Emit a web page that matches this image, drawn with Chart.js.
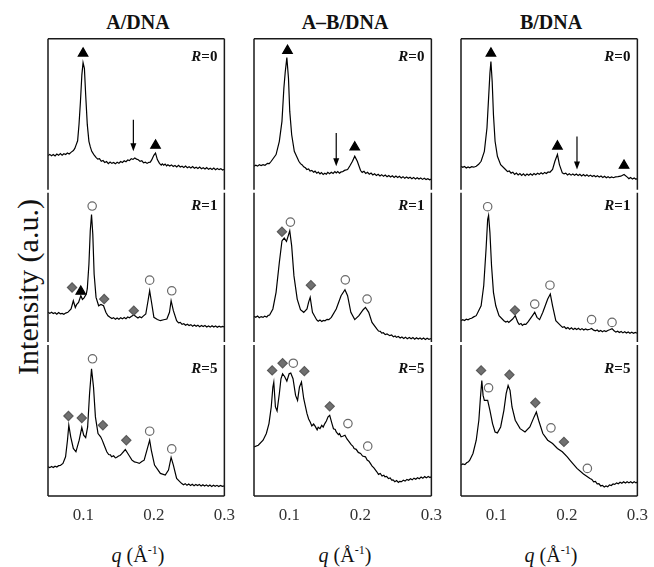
<!DOCTYPE html>
<html>
<head>
<meta charset="utf-8">
<script src="https://cdn.jsdelivr.net/npm/chart.js@4.4.1/dist/chart.umd.min.js"></script>
<style>
  body { margin: 0; width: 654px; height: 567px; background: #fff; position: relative; overflow: hidden; font-family: "Liberation Serif", "DejaVu Serif", serif; color: #111; }
  canvas { position: absolute; top: 32px; }
  .title { position: absolute; top: 11px; width: 120px; text-align: center; font-weight: bold; font-size: 20px; line-height: 22px; }
  .xlab { position: absolute; top: 555px; font-size: 20px; white-space: nowrap; transform: translate(-50%, -50%); }
  .xlab sup { font-size: 12px; }
  #ylab { position: absolute; left: 28px; top: 287px; font-size: 30px; white-space: nowrap; transform: translate(-50%, -50%) rotate(-90deg); }
</style>
</head>
<body>
<div class="title" style="left:78px">A/DNA</div>
<div class="title" style="left:285px">A&ndash;B/DNA</div>
<div class="title" style="left:491px">B/DNA</div>
<div id="ylab">Intensity (a.u.)</div>
<div class="xlab" style="left:138px"><i>q</i> (Å<sup>-1</sup>)</div>
<div class="xlab" style="left:345px"><i>q</i> (Å<sup>-1</sup>)</div>
<div class="xlab" style="left:551px"><i>q</i> (Å<sup>-1</sup>)</div>
<canvas id="cA" width="211" height="498" style="left:33px"></canvas>
<canvas id="cB" width="212" height="498" style="left:239px"></canvas>
<canvas id="cC" width="211" height="498" style="left:446px"></canvas>
<script>
// charge ratios, top to bottom
const ratios = [0, 1, 5];
const xTicks = [0.1, 0.2, 0.3];

// A/DNA  [q, I]
const traceA0 = [[0.050,23.3],[0.0525,24.1],[0.055,23.2],[0.0575,24.0],[0.060,23.1],[0.0625,24.3],[0.065,23.5],[0.0675,24.6],[0.070,23.6],[0.0725,24.5],[0.075,24.0],[0.0775,25.0],[0.080,24.4],[0.083,25.6],[0.086,26.6],[0.088,28],[0.090,30.5],[0.092,33],[0.094,44],[0.096,58.8],[0.098,76.3],[0.0997,84.3],[0.1016,80.6],[0.1034,63.2],[0.1057,43.6],[0.108,32.7],[0.110,29],[0.112,26.1],[0.115,24],[0.118,22.2],[0.1205,21.0],[0.123,21.3],[0.1255,19.6],[0.128,20.1],[0.1305,18.8],[0.133,19.4],[0.1355,18.0],[0.138,19.1],[0.1405,18.2],[0.143,18.8],[0.1455,17.9],[0.148,18.9],[0.1505,18.3],[0.153,19.4],[0.1555,18.8],[0.158,19.9],[0.1605,19.3],[0.163,20.4],[0.1655,20.0],[0.168,21.3],[0.1705,20.8],[0.173,21.7],[0.1755,21.0],[0.178,20.6],[0.1805,19.5],[0.183,19.9],[0.1855,18.6],[0.188,19.0],[0.1905,18.2],[0.193,18.9],[0.195,19.0],[0.197,20.5],[0.200,23.5],[0.2024,25],[0.205,20.7],[0.208,18.2],[0.2105,17.1],[0.212,17.9],[0.214,17.0],[0.216,17.8],[0.218,16.6],[0.220,17.3],[0.2225,16.5],[0.225,17.2],[0.2275,16.2],[0.230,16.8],[0.2325,15.9],[0.235,16.9],[0.2375,15.8],[0.240,16.3],[0.2425,15.5],[0.245,16.4],[0.2475,15.4],[0.250,16.0],[0.2525,15.2],[0.255,16.1],[0.2575,15.0],[0.260,15.7],[0.2625,14.8],[0.265,15.8],[0.2675,14.7],[0.270,15.3],[0.2725,14.5],[0.275,15.4],[0.2775,14.3],[0.280,15.0],[0.2825,14.2],[0.285,15.1],[0.2875,14.0],[0.290,14.8],[0.2925,14.1],[0.295,14.7],[0.2975,13.9],[0.300,14.4]];
const traceA1 = [[0.050,20.5],[0.0525,19.8],[0.055,20.6],[0.0575,19.7],[0.060,20.2],[0.0625,19.3],[0.065,20.3],[0.0675,19.5],[0.070,19.8],[0.0725,19.2],[0.075,20.0],[0.0781,20.5],[0.0827,22.7],[0.0859,28.1],[0.0887,23.7],[0.0905,25.5],[0.0933,27],[0.0965,31.4],[0.0988,29],[0.1011,30],[0.1043,32.5],[0.1057,36],[0.108,52],[0.1099,73.9],[0.1117,84.7],[0.1135,71.7],[0.1154,45.5],[0.1181,30.3],[0.1218,24.8],[0.125,25.6],[0.1287,24.8],[0.132,20.5],[0.135,18.2],[0.1379,17.2],[0.1405,16.4],[0.143,17.0],[0.1455,15.9],[0.148,16.8],[0.1505,16.0],[0.153,16.9],[0.1555,16.2],[0.158,17.1],[0.1605,16.3],[0.163,17.4],[0.1655,16.9],[0.1679,17.8],[0.1716,18.8],[0.175,17.6],[0.1775,16.8],[0.180,17.6],[0.1825,16.9],[0.185,18.0],[0.1886,19.4],[0.1918,28.1],[0.1941,34.6],[0.1964,28.1],[0.2001,17.2],[0.205,15.8],[0.2093,15],[0.214,15.6],[0.2185,16.1],[0.2222,20.5],[0.2245,28.1],[0.2277,21.6],[0.2323,15],[0.235,13.6],[0.2375,13.9],[0.240,12.6],[0.2425,13.0],[0.245,12.0],[0.2475,12.7],[0.250,11.8],[0.2525,12.4],[0.255,11.4],[0.2575,12.2],[0.260,11.3],[0.2625,12.0],[0.265,11.1],[0.2675,11.9],[0.270,11.2],[0.2725,11.8],[0.275,10.9],[0.2775,11.6],[0.280,10.8],[0.2825,11.7],[0.285,10.9],[0.2875,11.5],[0.290,10.7],[0.2925,11.4],[0.295,10.8],[0.2975,11.3],[0.300,10.9]];
const traceA5 = [[0.050,19.2],[0.0525,18.6],[0.055,19.4],[0.0575,18.7],[0.060,19.5],[0.0625,19.0],[0.065,19.9],[0.0675,20.0],[0.0712,21.4],[0.0749,25.7],[0.0776,36.6],[0.0795,46.4],[0.0822,38.8],[0.0859,31.2],[0.0896,29],[0.0942,36.6],[0.0979,44.9],[0.1006,39.9],[0.1034,38.3],[0.1062,45.3],[0.1089,67.1],[0.1117,83.4],[0.1145,71.5],[0.1172,51.9],[0.1209,41],[0.1246,38.8],[0.127,36.5],[0.1287,34.4],[0.1333,29],[0.136,27.2],[0.1385,27.0],[0.1402,25.7],[0.143,26.4],[0.1455,25.0],[0.1471,25.3],[0.150,26.2],[0.152,26.6],[0.154,27.5],[0.1596,30.5],[0.1656,26.1],[0.169,23.5],[0.1725,22.4],[0.176,22.0],[0.1794,21.4],[0.183,22.6],[0.1863,23.5],[0.1909,31.2],[0.1941,36.6],[0.1964,30.1],[0.201,20.3],[0.2093,14.8],[0.2162,13.7],[0.2208,17],[0.2245,25.3],[0.2277,20.3],[0.2323,11.5],[0.2392,8.3],[0.242,7.4],[0.2445,8.1],[0.247,7.0],[0.2495,7.8],[0.252,6.9],[0.2545,7.7],[0.257,6.8],[0.2595,7.6],[0.262,6.9],[0.2645,7.5],[0.267,6.6],[0.2695,7.4],[0.272,6.5],[0.2745,7.3],[0.277,6.4],[0.2795,7.2],[0.282,6.3],[0.2845,7.1],[0.287,6.4],[0.2895,7.0],[0.292,6.2],[0.2945,6.9],[0.297,6.3],[0.300,6.6]];
// markers  [R, q, I]
const triA = [[0,0.0997,90.4],[0,0.2024,30],[1,0.0965,34.2]];
const circA = [[1,0.1126,90.2],[1,0.1941,41.6],[1,0.2254,34.6],[5,0.1131,90],[5,0.1941,42.5],[5,0.2254,30.9]];
const diaA = [[1,0.0841,36.8],[1,0.1296,29.2],[1,0.1716,21.6],[5,0.079,52.5],[5,0.0979,51.2],[5,0.1278,46.4],[5,0.161,36.6]];
const arrowA = [[0,0.171,46.8,26.1]];

// A-B/DNA
const traceB0 = [[0.050,16.3],[0.0525,17.0],[0.055,16.4],[0.0575,17.3],[0.060,16.8],[0.0628,17.4],[0.0655,17.0],[0.069,18.2],[0.0715,18.0],[0.0743,19.6],[0.0811,24],[0.0857,32.7],[0.0894,45.8],[0.0921,67.5],[0.094,78],[0.0963,87.6],[0.0986,74.1],[0.1004,52.3],[0.1031,37],[0.1068,26.1],[0.1132,19.6],[0.1155,18.0],[0.118,17.2],[0.120,16.0],[0.1224,15.3],[0.1245,14.2],[0.127,14.6],[0.129,13.2],[0.1315,13.6],[0.134,12.4],[0.136,13.1],[0.1385,11.8],[0.1407,12.5],[0.143,11.3],[0.145,12.2],[0.1475,11.0],[0.1498,11.8],[0.152,11.1],[0.154,12.3],[0.1565,11.4],[0.159,12.4],[0.1615,11.6],[0.164,12.8],[0.1659,12.0],[0.168,12.9],[0.1705,11.8],[0.1727,12.6],[0.175,12.7],[0.1775,13.6],[0.1819,14.2],[0.185,16.5],[0.1888,19.6],[0.192,22.9],[0.1956,19.6],[0.2002,13.5],[0.2025,12.3],[0.205,13.0],[0.2075,11.6],[0.210,12.4],[0.2125,11.1],[0.215,11.9],[0.2175,10.6],[0.220,11.4],[0.2225,10.2],[0.225,11.0],[0.2275,9.9],[0.230,10.8],[0.2325,9.7],[0.235,10.5],[0.2375,9.4],[0.240,10.3],[0.2425,9.3],[0.245,10.1],[0.2475,9.0],[0.250,9.9],[0.2525,8.9],[0.255,9.7],[0.2575,8.7],[0.260,9.5],[0.2625,8.5],[0.265,9.3],[0.2675,8.4],[0.270,9.1],[0.2725,8.2],[0.275,9.0],[0.2775,8.0],[0.280,8.8],[0.2825,7.9],[0.285,8.6],[0.2875,7.7],[0.290,8.4],[0.2925,7.6],[0.295,8.2],[0.2975,7.4],[0.300,7.9]];
const traceB1 = [[0.050,17.9],[0.0525,17.2],[0.055,18.1],[0.0575,17.0],[0.060,17.7],[0.0628,17.2],[0.065,18.0],[0.068,17.4],[0.070,18.5],[0.072,18.7],[0.0766,22.7],[0.0811,33.6],[0.0857,53.2],[0.0894,67.3],[0.0926,69.2],[0.0958,67],[0.1004,73.9],[0.1031,64.1],[0.1063,44.4],[0.1109,29.2],[0.1155,22.2],[0.1201,20.5],[0.1247,22.7],[0.1269,27],[0.1292,30.3],[0.1324,20.5],[0.1384,15.5],[0.1405,14.6],[0.143,15.4],[0.1455,14.5],[0.1476,15.2],[0.150,14.9],[0.153,15.9],[0.1555,15.7],[0.159,17.2],[0.1659,22.7],[0.1727,31.4],[0.1782,35.3],[0.1819,31.4],[0.1865,20.5],[0.192,15.7],[0.1979,18.3],[0.2039,22.2],[0.2071,23.7],[0.2117,20.5],[0.2163,13.9],[0.2231,9.6],[0.2255,8.2],[0.228,8.0],[0.230,6.9],[0.2323,7.1],[0.235,5.9],[0.2375,6.3],[0.2414,5.2],[0.244,5.6],[0.2465,4.4],[0.249,5.0],[0.2506,4.1],[0.2535,4.6],[0.256,3.6],[0.2585,4.3],[0.261,3.4],[0.2635,4.2],[0.266,3.2],[0.2689,4.0],[0.2715,3.1],[0.274,3.9],[0.2765,2.9],[0.279,3.8],[0.2815,3.0],[0.284,3.7],[0.2865,2.8],[0.289,3.6],[0.2915,2.7],[0.294,3.5],[0.2965,2.8],[0.300,3.3]];
const traceB5 = [[0.050,32.2],[0.056,33.3],[0.0628,36.6],[0.0674,41],[0.0711,47.5],[0.0743,58.4],[0.0766,71.5],[0.0779,74.7],[0.0802,58.4],[0.0825,55.8],[0.0857,67.1],[0.088,76.9],[0.0903,80.2],[0.0931,78.4],[0.0963,75.4],[0.0995,80.2],[0.1018,80.6],[0.105,76.9],[0.1086,66],[0.1114,62.7],[0.1141,71.5],[0.1169,74.7],[0.1201,63.8],[0.1247,54],[0.127,50.5],[0.1292,48.6],[0.1315,46.0],[0.134,47.2],[0.1361,45.8],[0.139,43.4],[0.1405,45.1],[0.143,44.2],[0.1455,46.3],[0.1475,45.2],[0.1498,47.5],[0.152,49.2],[0.1544,51.9],[0.1567,52.9],[0.1599,47.5],[0.162,44.1],[0.1645,43.6],[0.1659,42],[0.169,40.3],[0.1705,41.0],[0.1727,38.8],[0.175,39.2],[0.1782,39.9],[0.181,37.4],[0.1842,35.5],[0.187,33.7],[0.1895,32.6],[0.1911,31.2],[0.194,30.6],[0.197,28.6],[0.2002,27.9],[0.203,26.2],[0.2071,25.7],[0.2095,23.6],[0.212,22.8],[0.214,21.4],[0.2165,19.6],[0.219,18.4],[0.2231,15.9],[0.2255,14.2],[0.228,14.8],[0.2305,13.1],[0.233,13.6],[0.2346,12.6],[0.237,12.9],[0.2395,11.4],[0.242,11.8],[0.244,10.4],[0.246,10.6],[0.2485,9.4],[0.251,10.1],[0.2535,8.9],[0.2552,9.6],[0.258,9.4],[0.2605,10.4],[0.263,9.8],[0.2655,10.9],[0.268,10.3],[0.2705,11.3],[0.273,10.6],[0.2755,11.7],[0.278,11.0],[0.2805,12.0],[0.283,11.3],[0.2855,12.4],[0.288,11.6],[0.2905,12.7],[0.293,11.9],[0.2955,12.8],[0.298,12.1],[0.300,12.7]];
const triB = [[0,0.0972,92.2],[0,0.192,28.8]];
const circB = [[1,0.1013,79.7],[1,0.1787,41.8],[1,0.2094,29.2],[5,0.1054,87.1],[5,0.1824,47.5],[5,0.2103,32.7]];
const diaB = [[1,0.0894,73.4],[1,0.1302,38.3],[5,0.0756,82.4],[5,0.0903,87.1],[5,0.121,81.9],[5,0.1567,58.8]];
const arrowB = [[0,0.1659,38.1,16.3]];

// B/DNA
const traceC0 = [[0.050,16.3],[0.0525,15.6],[0.055,16.2],[0.0575,15.2],[0.060,15.9],[0.0624,15.3],[0.065,16.0],[0.068,15.7],[0.0716,16.3],[0.075,17.6],[0.0785,19.6],[0.0831,26.1],[0.0868,41.4],[0.0891,61],[0.091,77.3],[0.0924,85],[0.0942,71.9],[0.096,50.1],[0.0983,32.7],[0.1016,22.9],[0.1062,17.4],[0.1131,14.2],[0.116,12.8],[0.1185,13.2],[0.121,11.8],[0.1235,12.4],[0.126,11.0],[0.1285,11.9],[0.131,10.6],[0.1335,11.5],[0.136,10.3],[0.1385,11.3],[0.141,10.2],[0.1435,11.2],[0.146,10.4],[0.1485,11.4],[0.151,10.5],[0.1535,11.6],[0.156,10.8],[0.1585,11.7],[0.161,11.0],[0.1635,12.0],[0.166,11.2],[0.1685,12.3],[0.171,11.6],[0.1735,12.6],[0.176,12.4],[0.1798,14.2],[0.1831,19.6],[0.1867,24],[0.1895,17.4],[0.1936,12],[0.196,11.3],[0.1985,11.8],[0.201,10.6],[0.2035,11.4],[0.206,10.5],[0.2085,11.3],[0.211,10.4],[0.2135,11.2],[0.216,10.3],[0.2185,11.1],[0.221,10.0],[0.2235,10.9],[0.226,9.9],[0.2285,10.7],[0.231,9.7],[0.2335,10.5],[0.236,9.6],[0.2385,10.3],[0.241,9.4],[0.2435,10.1],[0.246,9.2],[0.2485,9.9],[0.251,9.0],[0.2535,9.7],[0.256,8.8],[0.2585,9.5],[0.261,8.7],[0.2635,9.3],[0.266,8.8],[0.269,9.3],[0.2725,9.5],[0.2765,9.8],[0.2811,10.9],[0.2857,9.2],[0.288,8.2],[0.2905,8.9],[0.293,7.9],[0.2955,8.6],[0.298,7.8],[0.300,8.3]];
const traceC1 = [[0.050,15],[0.0525,15.7],[0.055,15.1],[0.0575,16.0],[0.060,15.6],[0.0624,16.3],[0.065,16.6],[0.068,17.5],[0.0716,18.3],[0.0785,24.8],[0.0822,37.9],[0.0855,61.9],[0.0878,81.5],[0.0891,84.1],[0.091,72.8],[0.0933,51],[0.096,33.6],[0.0993,24.8],[0.1039,18.3],[0.1108,15],[0.1135,14.1],[0.116,14.6],[0.1177,13.9],[0.120,14.8],[0.1232,16.1],[0.1269,18.3],[0.1306,13.9],[0.1325,12.5],[0.135,13.2],[0.137,11.9],[0.1395,12.8],[0.142,12.6],[0.1453,14.4],[0.1513,18.3],[0.1545,20.5],[0.1577,17.2],[0.1614,15.7],[0.166,20.5],[0.1729,29.2],[0.1766,32.5],[0.1798,24.8],[0.1844,15],[0.1913,11.8],[0.194,10.6],[0.1965,11.0],[0.199,9.8],[0.2015,10.5],[0.204,9.4],[0.2065,10.3],[0.209,9.3],[0.2115,10.1],[0.214,9.2],[0.2165,10.0],[0.219,9.0],[0.2215,9.8],[0.224,8.9],[0.2265,9.6],[0.229,9.0],[0.2325,9.4],[0.2351,9.9],[0.238,8.8],[0.2405,8.4],[0.243,8.9],[0.2455,7.9],[0.248,8.6],[0.2505,7.8],[0.253,8.5],[0.2555,7.9],[0.258,8.6],[0.2615,9.2],[0.2641,9.8],[0.267,8.4],[0.2695,7.5],[0.272,8.1],[0.2745,7.2],[0.277,7.9],[0.2795,7.0],[0.282,7.7],[0.2845,6.9],[0.287,7.6],[0.2895,6.8],[0.292,7.4],[0.2945,6.7],[0.297,7.3],[0.300,6.8]];
const traceC5 = [[0.050,20.3],[0.0525,21.0],[0.0555,20.6],[0.058,21.8],[0.0605,22.4],[0.0624,23.5],[0.067,27.9],[0.0716,36.6],[0.0753,49.7],[0.0776,64.9],[0.0795,75.8],[0.0813,66],[0.0831,62.7],[0.0878,62.7],[0.091,56.2],[0.0947,47.5],[0.0983,42],[0.1016,41.4],[0.1062,45.3],[0.1108,56.2],[0.114,67.1],[0.1168,72.5],[0.1195,69.3],[0.1223,58.4],[0.1269,49.7],[0.1338,44.2],[0.1407,42],[0.1476,45.3],[0.1536,51.9],[0.1568,55.1],[0.160,49.7],[0.166,41],[0.1729,36.6],[0.1798,34.4],[0.1867,31.2],[0.1936,29],[0.2006,25.7],[0.2052,23.1],[0.2144,18.1],[0.2236,14.4],[0.2328,11.5],[0.2355,10.9],[0.238,9.3],[0.2405,9.6],[0.243,7.9],[0.2455,8.1],[0.248,6.6],[0.2505,7.0],[0.253,5.9],[0.2555,6.6],[0.258,6.1],[0.2605,7.3],[0.263,6.9],[0.2655,7.9],[0.268,7.6],[0.2705,8.6],[0.273,8.0],[0.2755,9.0],[0.278,8.4],[0.2805,9.3],[0.283,8.5],[0.2855,9.4],[0.288,8.6],[0.2905,9.4],[0.293,8.5],[0.2955,9.3],[0.298,8.6],[0.300,9.1]];
const triC = [[0,0.0924,90.4],[0,0.1867,29.4],[0,0.2811,16.8]];
const circC = [[1,0.0878,89.8],[1,0.1545,25.9],[1,0.1761,38.3],[1,0.2351,15.7],[1,0.2641,13.9],[5,0.0891,71],[5,0.1775,44.7],[5,0.2291,18.1]];
const diaC = [[1,0.1264,21.8],[5,0.0785,82.4],[5,0.1186,79.5],[5,0.1554,61.2],[5,0.1959,35.5]];
const arrowC = [[0,0.2144,35.9,14.2]];

const panels = [
  { id: 'cA', traces: [traceA0, traceA1, traceA5], tri: triA, circ: circA, dia: diaA, arrows: arrowA },
  { id: 'cB', traces: [traceB0, traceB1, traceB5], tri: triB, circ: circB, dia: diaB, arrows: arrowB },
  { id: 'cC', traces: [traceC0, traceC1, traceC5], tri: triC, circ: circC, dia: diaC, arrows: arrowC }
];

// each ratio gets its own 100-unit band, R=0 on top
const shift = R => (ratios.length - 1 - ratios.indexOf(R)) * 100;

const framePlugin = {
  id: 'frame',
  afterDatasetsDraw(chart) {
    const { ctx, chartArea: a, scales: { x, y } } = chart;
    const opts = chart.options.plugins.frame;
    ctx.save();
    // arrows
    ctx.strokeStyle = '#000';
    ctx.fillStyle = '#000';
    ctx.lineWidth = 1.2;
    opts.arrows.forEach(([R, q, i1, i2]) => {
      const px = x.getPixelForValue(q);
      const y1 = y.getPixelForValue(i1 + shift(R));
      const y2 = y.getPixelForValue(i2 + shift(R));
      ctx.beginPath();
      ctx.moveTo(px, y1);
      ctx.lineTo(px, y2 - 4);
      ctx.stroke();
      ctx.beginPath();
      ctx.moveTo(px - 3, y2 - 8);
      ctx.lineTo(px + 3, y2 - 8);
      ctx.lineTo(px, y2);
      ctx.closePath();
      ctx.fill();
    });
    // R labels
    ctx.textBaseline = 'middle';
    ctx.fillStyle = '#111';
    const labelY = [88, 90, 83];
    ratios.forEach((R, k) => {
      const py = y.getPixelForValue(labelY[k] + shift(R));
      ctx.font = 'bold 15px "Liberation Serif"';
      const rest = '=' + R;
      const w2 = ctx.measureText(rest).width;
      ctx.textAlign = 'right';
      ctx.fillText(rest, a.right - 7, py);
      ctx.font = 'italic bold 15px "Liberation Serif"';
      ctx.fillText('R', a.right - 7 - w2, py);
    });
    // box, with small breaks between bands
    ctx.strokeStyle = '#1a1a1a';
    ctx.lineWidth = 1.5;
    ctx.beginPath();
    ctx.moveTo(a.left, a.top);
    ctx.lineTo(a.right, a.top);
    ctx.moveTo(a.left, a.bottom);
    ctx.lineTo(a.right, a.bottom);
    const cuts = [a.top, y.getPixelForValue(200), y.getPixelForValue(100), a.bottom];
    for (let k = 0; k < 3; k++) {
      const t = k === 0 ? cuts[k] : cuts[k] + 1.5;
      const b = k === 2 ? cuts[k + 1] : cuts[k + 1] - 1.5;
      [a.left, a.right].forEach(px => { ctx.moveTo(px, t); ctx.lineTo(px, b); });
    }
    ctx.stroke();
    ctx.restore();
  }
};

function markerSet(arr, style, bg, border, r) {
  return {
    data: arr.map(m => ({ x: m[1], y: m[2] + shift(m[0]) })),
    showLine: false,
    pointStyle: style,
    pointRadius: r,
    pointBackgroundColor: bg,
    pointBorderColor: border,
    pointBorderWidth: 1.2,
    order: 0
  };
}

panels.forEach(p => {
  const datasets = [
    markerSet(p.tri, 'triangle', '#000', '#000', 5.5),
    markerSet(p.circ, 'circle', '#fff', '#6a6a6a', 4.2),
    markerSet(p.dia, 'rectRot', '#707070', '#5a5a5a', 4.6)
  ];
  p.traces.forEach((t, k) => {
    datasets.push({
      data: t.map(([q, i]) => ({ x: q, y: i + shift(ratios[k]) })),
      showLine: true,
      borderColor: '#000',
      borderWidth: 1.2,
      pointRadius: 0,
      tension: 0,
      order: 1
    });
  });
  new Chart(document.getElementById(p.id), {
    type: 'scatter',
    data: { datasets },
    options: {
      responsive: false,
      animation: false,
      events: [],
      layout: { padding: { left: 15, right: 15, top: 5, bottom: 0 } },
      plugins: {
        legend: { display: false },
        tooltip: { enabled: false },
        frame: { arrows: p.arrows }
      },
      scales: {
        x: {
          type: 'linear',
          min: 0.05,
          max: 0.3,
          afterFit: s => { s.height = 34; },
          afterBuildTicks: s => { s.ticks = xTicks.map(v => ({ value: v })); },
          grid: { display: false, drawTicks: false },
          border: { display: false },
          ticks: {
            padding: 9,
            maxRotation: 0,
            color: '#333',
            font: { family: '"Liberation Serif"', size: 17 },
            callback: v => v.toFixed(1)
          }
        },
        y: { display: false, min: 0, max: 300 }
      }
    },
    plugins: [framePlugin]
  });
});
</script>
</body>
</html>
